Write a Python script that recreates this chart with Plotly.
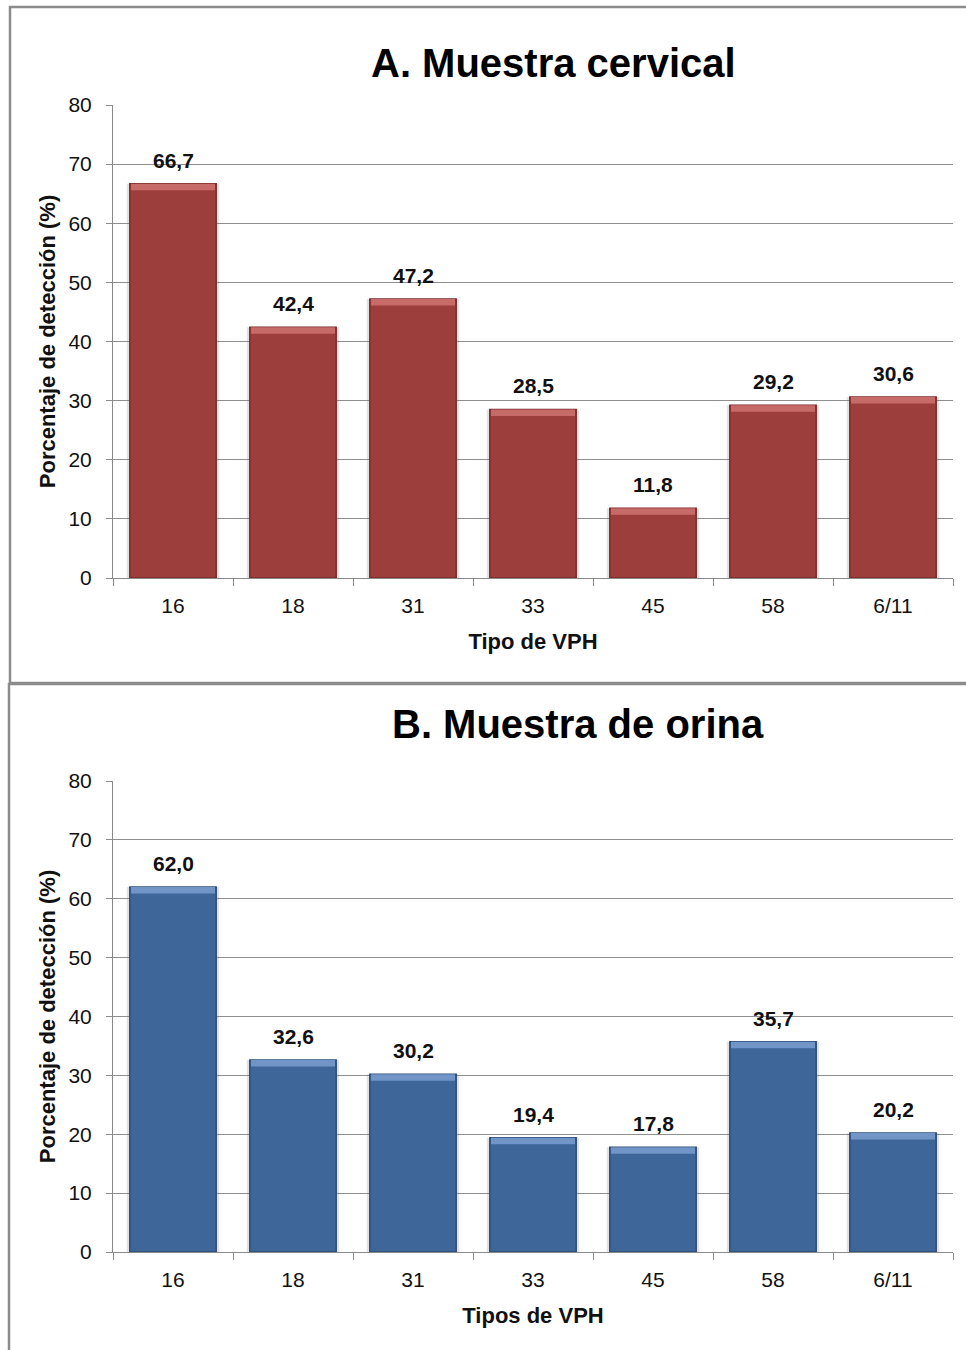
import plotly.graph_objects as go

# HPV types and detection percentages for each sample type
tipos = ["16", "18", "31", "33", "45", "58", "6/11"]
cervical = [66.7, 42.4, 47.2, 28.5, 11.8, 29.2, 30.6]
orina = [62.0, 32.6, 30.2, 19.4, 17.8, 35.7, 20.2]

W, H = 966, 1350
FONT = "Liberation Sans, Arial, sans-serif"

RED = "#9C3E3C"
RED_DARK = "#7A2B2A"
RED_LIGHT = "#C76B68"
BLUE = "#3E6699"
BLUE_DARK = "#2C4D78"
BLUE_LIGHT = "#7095C6"

BAR_W = 0.72
BEVEL = 1.1  # height of the light top edge, in percentage units


def px_x(p):
    return p / W


def px_y(p):
    return 1 - p / H


fig = go.Figure()


def add_panel(values, color, dark, light, xa, ya):
    xref = "x" if xa == 1 else f"x{xa}"
    yref = "y" if ya == 1 else f"y{ya}"
    # soft shadow behind each bar
    fig.add_trace(go.Bar(
        x=tipos, y=values, width=BAR_W + 0.05,
        marker=dict(color="rgba(120,120,120,0.22)", line=dict(width=0)),
        xaxis=xref, yaxis=yref, hoverinfo="skip", showlegend=False,
    ))
    fig.add_trace(go.Bar(
        x=tipos, y=values, width=BAR_W,
        marker=dict(color=color, line=dict(color=dark, width=1.5)),
        xaxis=xref, yaxis=yref, showlegend=False,
    ))
    # lighter bevelled top edge
    fig.add_trace(go.Bar(
        x=tipos, y=[BEVEL] * len(values), base=[v - BEVEL for v in values],
        width=BAR_W - 0.02,
        marker=dict(color=light, line=dict(width=0)),
        xaxis=xref, yaxis=yref, hoverinfo="skip", showlegend=False,
    ))
    # value labels, positioned by category index
    for i, v in enumerate(values):
        fig.add_annotation(
            x=i, y=v, xref=xref, yref=yref,
            text=f"{v:.1f}".replace(".", ","),
            showarrow=False, yanchor="bottom", yshift=10,
            font=dict(family=FONT, size=21, color="#111111", weight="bold"),
        )


add_panel(cervical, RED, RED_DARK, RED_LIGHT, 1, 1)
add_panel(orina, BLUE, BLUE_DARK, BLUE_LIGHT, 2, 2)

x_dom = [px_x(113), px_x(953)]
ax_common = dict(
    showline=True, linecolor="#8a8a8a", linewidth=1, automargin=False,
    tickfont=dict(family=FONT, size=21, color="#111111"),
)
xcommon = dict(
    **ax_common, domain=x_dom, type="category",
    categoryorder="array", categoryarray=tipos,
    range=[-0.5, len(tipos) - 0.5], tickangle=0,
    ticks="outside", ticklen=7, tickcolor="#8a8a8a", tickson="boundaries",
    showgrid=False, ticklabelstandoff=9,
)
ycommon = dict(
    **ax_common, range=[0, 80], dtick=10, ticks="outside", ticklen=6,
    tickcolor="#8a8a8a", showgrid=True, gridcolor="#8f8f8f", gridwidth=1,
    zeroline=False, ticklabelstandoff=10,
)
title_font = dict(family=FONT, size=22, color="#111111", weight="bold")

fig.update_layout(
    width=W, height=H,
    margin=dict(l=0, r=0, t=0, b=0, autoexpand=False),
    paper_bgcolor="white", plot_bgcolor="white",
    barmode="overlay", bargap=0.28,
    xaxis=dict(**xcommon, anchor="y",
               title=dict(text="Tipo de VPH", font=title_font, standoff=17)),
    yaxis=dict(**ycommon, anchor="x", domain=[px_y(578), px_y(105)],
               title=dict(text="Porcentaje de detección (%)", font=title_font, standoff=6)),
    xaxis2=dict(**xcommon, anchor="y2",
                title=dict(text="Tipos de VPH", font=title_font, standoff=17)),
    yaxis2=dict(**ycommon, anchor="x2", domain=[px_y(1252), px_y(781)],
                title=dict(text="Porcentaje de detección (%)", font=title_font, standoff=6)),
)

# panel titles
for txt, cx, cy in [("A. Muestra cervical", 553, 63), ("B. Muestra de orina", 578, 724)]:
    fig.add_annotation(
        x=px_x(cx), y=px_y(cy), xref="paper", yref="paper",
        text=txt, showarrow=False, xanchor="center", yanchor="middle",
        font=dict(family=FONT, size=40, color="#000000", weight="bold"),
    )

# panel frames
fig.add_shape(type="rect", xref="paper", yref="paper",
              x0=px_x(10), x1=px_x(980), y0=px_y(683), y1=px_y(7),
              line=dict(color="#8c8c8c", width=2.5), layer="below")
fig.add_shape(type="rect", xref="paper", yref="paper",
              x0=px_x(9), x1=px_x(980), y0=px_y(1370), y1=px_y(684),
              line=dict(color="#8c8c8c", width=2.5), layer="below")

fig.write_html("out.html")
